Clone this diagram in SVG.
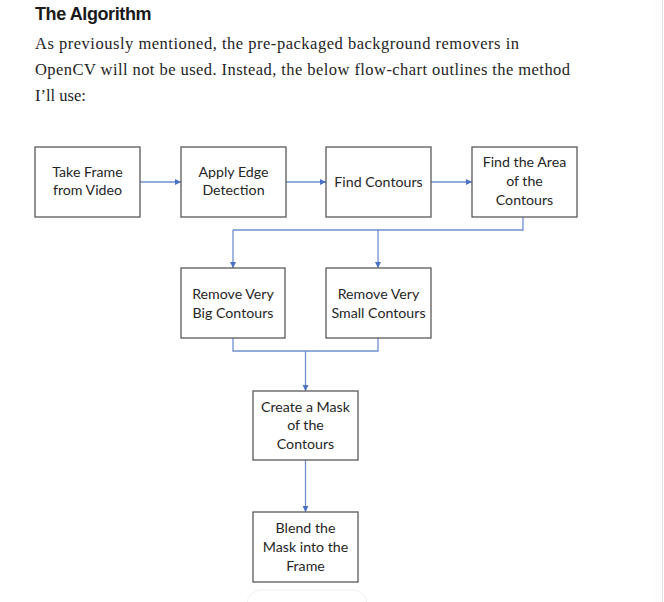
<svg xmlns="http://www.w3.org/2000/svg" width="664" height="602" viewBox="0 0 664 602">
<defs>
<style>
.h{font-family:"Liberation Sans",Arial,sans-serif;font-weight:bold;font-size:18px;fill:#1a1a1a;letter-spacing:-0.4px}
.p{font-family:"Liberation Serif","Times New Roman",serif;font-size:16.5px;fill:#242424}
.box{fill:#ffffff;stroke:#595959;stroke-width:1.3}
.t{font-family:Lato,"Open Sans",sans-serif;font-size:14.2px;fill:#262626;text-anchor:middle}
.c{fill:none;stroke:#6f8fcf;stroke-width:1.3}
</style>
<marker id="ah" viewBox="0 0 10 10" refX="10" refY="5" markerWidth="6" markerHeight="6" markerUnits="userSpaceOnUse" orient="auto">
<path d="M0,0 L10,5 L0,10 Z" fill="#4a72c4"/>
</marker>
</defs>
<rect x="0" y="0" width="664" height="602" fill="#ffffff"/>
<rect x="655" y="0" width="7" height="602" fill="#fcfcfc"/>
<line x1="662.5" y1="0" x2="662.5" y2="602" stroke="#e4e4e4" stroke-width="1"/>
<g id="heading">
<text class="h" x="35" y="20">The Algorithm</text>
<text class="p" x="35" y="49" textLength="484" lengthAdjust="spacing">As previously mentioned, the pre-packaged background removers in</text>
<text class="p" x="35" y="75" textLength="535" lengthAdjust="spacing">OpenCV will not be used. Instead, the below flow-chart outlines the method</text>
<text class="p" x="35" y="101">I’ll use:</text>
</g>
<g id="connectors">
<line class="c" x1="140" y1="182" x2="181" y2="182" marker-end="url(#ah)"/>
<line class="c" x1="286" y1="182" x2="326" y2="182" marker-end="url(#ah)"/>
<line class="c" x1="431" y1="182" x2="472" y2="182" marker-end="url(#ah)"/>
<polyline class="c" points="523,217 523,230 233,230"/>
<line class="c" x1="233" y1="230" x2="233" y2="268" marker-end="url(#ah)"/>
<line class="c" x1="378" y1="230" x2="378" y2="268" marker-end="url(#ah)"/>
<polyline class="c" points="233,338 233,351 378,351 378,338"/>
<line class="c" x1="305.5" y1="351" x2="305.5" y2="391" marker-end="url(#ah)"/>
<line class="c" x1="305.5" y1="460" x2="305.5" y2="512" marker-end="url(#ah)"/>
</g>
<g id="n1"><rect class="box" x="35" y="147" width="105" height="70"/><text class="t" x="87.5" y="177">Take Frame</text><text class="t" x="87.5" y="195">from Video</text></g>
<g id="n2"><rect class="box" x="181" y="147" width="105" height="70"/><text class="t" x="233.5" y="177">Apply Edge</text><text class="t" x="233.5" y="195">Detection</text></g>
<g id="n3"><rect class="box" x="326" y="147" width="105" height="70"/><text class="t" x="378.5" y="187">Find Contours</text></g>
<g id="n4"><rect class="box" x="472" y="147" width="105" height="70"/><text class="t" x="524.5" y="167">Find the Area</text><text class="t" x="524.5" y="186">of the</text><text class="t" x="524.5" y="205">Contours</text></g>
<g id="n5"><rect class="box" x="181" y="268" width="104" height="70"/><text class="t" x="233" y="299">Remove Very</text><text class="t" x="233" y="318">Big Contours</text></g>
<g id="n6"><rect class="box" x="326" y="268" width="105" height="70"/><text class="t" x="378.5" y="299">Remove Very</text><text class="t" x="378.5" y="318">Small Contours</text></g>
<g id="n7"><rect class="box" x="253" y="391" width="105" height="69"/><text class="t" x="305.5" y="412">Create a Mask</text><text class="t" x="305.5" y="430">of the</text><text class="t" x="305.5" y="449">Contours</text></g>
<g id="n8"><rect class="box" x="253" y="512" width="105" height="70"/><text class="t" x="305.5" y="533">Blend the</text><text class="t" x="305.5" y="552">Mask into the</text><text class="t" x="305.5" y="571">Frame</text></g>
<rect x="247" y="590" width="120" height="30" rx="14" fill="#ffffff" stroke="#f0f0f0" stroke-width="1"/>
</svg>
